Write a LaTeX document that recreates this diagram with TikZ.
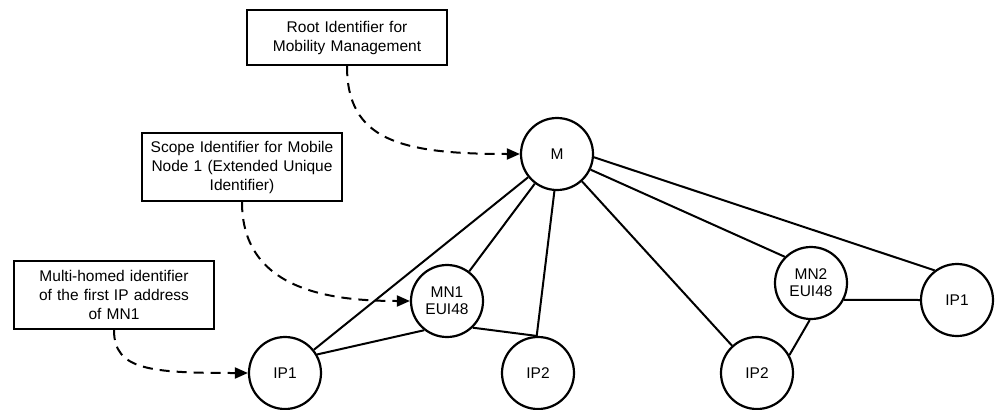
\documentclass[tikz,border=0pt]{standalone}
\usepackage{fontspec}
\setmainfont{Liberation Sans}
\usetikzlibrary{arrows.meta}
\begin{document}
\begin{tikzpicture}[x=1pt,y=-1pt,
  every node/.style={font=\fontsize{15.5}{19}\selectfont},
  ent/.style={circle,draw,line width=2.2pt,minimum size=72pt,inner sep=0pt,align=center},
  note/.style={rectangle,draw,line width=2.2pt,minimum width=200pt,text width=192pt,align=center,inner sep=3pt},
  link/.style={line width=2pt},
  ref/.style={line width=2pt,dash pattern=on 10pt off 7pt,-{Triangle[length=13pt,width=11pt]}}]
\useasboundingbox (0,0) rectangle (997,410);
% entities
\node[ent] (M) at (557,154) {M};
\node[ent] (MN1) at (447,301) {MN1\\[-2pt]EUI48};
\node[ent] (IP1a) at (285,373) {IP1};
\node[ent] (IP2a) at (538,373) {IP2};
\node[ent] (IP2b) at (757,373) {IP2};
\node[ent] (MN2) at (811,283) {MN2\\[-2pt]EUI48};
\node[ent] (IP1b) at (957,300) {IP1};
% notes
\node[note,minimum height=55pt] (root) at (347,37.5) {Root Identifier for\\Mobility Management};
\node[note,minimum height=68pt] (scope) at (242,167) {Scope Identifier for Mobile\\Node 1 (Extended Unique\\Identifier)};
\node[note,minimum height=68pt] (multi) at (114,295) {Multi-homed identifier\\of the first IP address\\of MN1};
% solid links
\draw[link] (IP1a) -- (M);
\draw[link] (IP1a.30) -- (MN1.232);
\draw[link] (MN1) -- (M);
\draw[link] (MN1.-46) -- (IP2a.92);
\draw[link] (IP2a.92) -- (M.266);
\draw[link] (M) -- (IP2b);
\draw[link] (M.-25) -- (MN2.135);
\draw[link] (M.-5) -- (IP1b.127);
\draw[link] (MN2.-27) -- (IP1b.180);
\draw[link] (MN2.-92) -- (IP2b.29);
% dashed references
\draw[ref] (root.south) .. controls (347,140) and (400,154) .. (M.west);
\draw[ref] (scope.south) .. controls (242,290) and (330,301) .. (MN1.west);
\draw[ref] (multi.south) .. controls (114,370) and (150,373) .. (IP1a.west);
\end{tikzpicture}
\end{document}
